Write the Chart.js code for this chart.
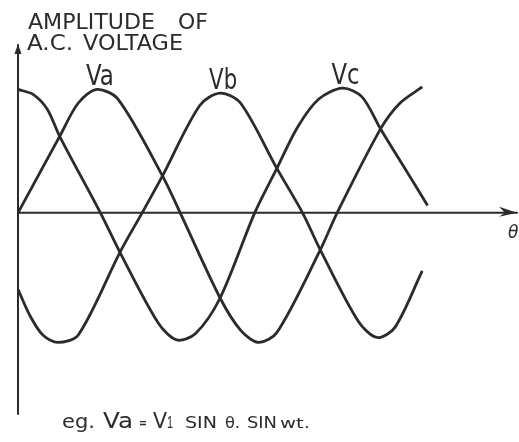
<!DOCTYPE html>
<html>
<head>
<meta charset="utf-8">
<title>Three-phase A.C. voltage</title>
<script src="https://cdn.jsdelivr.net/npm/chart.js@4.4.0/dist/chart.umd.min.js"></script>
<style>
    html, body { margin: 0; padding: 0; background: #fff; }
    canvas { display: block; }
</style>
</head>
<body>
<canvas id="phaseChart" width="519" height="442"></canvas>
<script>
// angle theta in degrees, amplitude as a fraction of the peak voltage
const seriesNames = ['Va', 'Vb', 'Vc'];

const vaTheta = [0, 47, 68, 89, 113, 163, 183, 228, 251, 271, 292, 341, 360, 409, 431, 456];
const vaAmp   = [0, 0.62, 0.89, 1.0, 0.92, 0.30, 0, -0.69, -0.95, -1.05, -0.97, -0.30, 0, 0.68, 0.89, 1.02];

const vbTheta = [0, 14, 28, 45, 68, 115, 140, 163, 205, 228, 251, 292, 321, 341, 384, 405, 425, 456];
const vbAmp   = [-0.62, -0.84, -0.99, -1.05, -0.99, -0.32, 0, 0.30, 0.87, 0.97, 0.89, 0.36, 0, -0.30, -0.88, -1.01, -0.93, -0.47];

const vcTheta = [0, 17, 33, 47, 93, 115, 158, 179, 200, 228, 267, 292, 315, 339, 366, 388, 409, 439, 462];
const vcAmp   = [1.0, 0.96, 0.84, 0.62, 0, -0.32, -0.89, -1.03, -0.98, -0.69, 0, 0.36, 0.69, 0.92, 1.01, 0.94, 0.68, 0.33, 0.06];

const yTitle = ['AMPLITUDE', 'OF', 'A.C.', 'VOLTAGE'];
const xTitle = 'θ';
const caption = ['eg.', 'Va', '=', 'V', '1', 'SIN', 'θ.', 'SIN', 'wt.'];

const ink = '#2b2b2b';

function toPoints(thetas, amps) {
    return thetas.map((t, i) => ({ x: t, y: amps[i] }));
}

// first interior peak of a wave, used to hang its name above it
function firstPeak(points) {
    for (let i = 1; i < points.length - 1; i++) {
        if (points[i].y >= points[i - 1].y && points[i].y >= points[i + 1].y) return points[i];
    }
    return points[0];
}

// draw text squeezed or stretched to a set width
function fitText(ctx, text, x, y, font, width, align) {
    ctx.font = font;
    const w = ctx.measureText(text).width;
    ctx.save();
    ctx.translate(x, y);
    ctx.scale(width / w, 1);
    ctx.textAlign = align || 'left';
    ctx.fillText(text, 0, 0);
    ctx.restore();
}

// hand drawn style axes with arrows, plus all the lettering
const sketchAxes = {
    id: 'sketchAxes',
    beforeDatasetsDraw(chart) {
        const ctx = chart.ctx;
        const xs = chart.scales.x, ys = chart.scales.y;
        const x0 = xs.getPixelForValue(0);
        const y0 = ys.getPixelForValue(0);
        const xEnd = xs.right + 7;

        ctx.save();
        ctx.strokeStyle = ink;
        ctx.fillStyle = ink;
        ctx.lineWidth = 2;
        ctx.lineCap = 'round';

        // vertical axis
        ctx.beginPath();
        ctx.moveTo(x0, ys.bottom);
        ctx.lineTo(x0, ys.top);
        ctx.stroke();
        ctx.beginPath();
        ctx.moveTo(x0, ys.top - 1);
        ctx.lineTo(x0 - 3.5, ys.top + 9);
        ctx.lineTo(x0 + 3.5, ys.top + 9);
        ctx.closePath();
        ctx.fill();

        // horizontal axis
        ctx.beginPath();
        ctx.moveTo(x0, y0);
        ctx.lineTo(xEnd, y0);
        ctx.stroke();
        ctx.beginPath();
        ctx.moveTo(xEnd, y0);
        ctx.lineTo(xEnd - 18, y0 - 6);
        ctx.lineTo(xEnd - 12, y0);
        ctx.lineTo(xEnd - 18, y0 + 4);
        ctx.closePath();
        ctx.fill();
        ctx.restore();
    },
    afterDatasetsDraw(chart) {
        const ctx = chart.ctx;
        const xs = chart.scales.x, ys = chart.scales.y;
        const y0 = ys.getPixelForValue(0);

        ctx.save();
        ctx.fillStyle = ink;
        ctx.textBaseline = 'alphabetic';

        // axis titles
        const tf = '22px "DejaVu Sans"';
        fitText(ctx, yTitle[0], 28, 29, tf, 127);
        fitText(ctx, yTitle[1], 178, 29, tf, 30);
        fitText(ctx, yTitle[2], 27, 50, tf, 46);
        fitText(ctx, yTitle[3], 83, 50, tf, 100);
        ctx.font = 'italic 17px "DejaVu Sans"';
        ctx.fillText(xTitle, xs.right - 2, y0 + 25);

        // wave names sit just above each wave's peak
        chart.data.datasets.forEach(ds => {
            const peak = firstPeak(ds.data);
            const px = xs.getPixelForValue(peak.x) + 3;
            const py = ys.getPixelForValue(peak.y) - 4;
            fitText(ctx, ds.label, px, py, '29px "DejaVu Sans"', 28, 'center');
        });

        // example formula underneath
        const base = 428;
        fitText(ctx, caption[0], 62, base, '20px "DejaVu Sans"', 33);
        fitText(ctx, caption[1], 103, base, '22px "DejaVu Sans"', 30);
        fitText(ctx, caption[2], 139, base - 1, 'bold 13px "DejaVu Sans"', 8);
        fitText(ctx, caption[3], 153, base, '22px "DejaVu Sans"', 14);
        fitText(ctx, caption[4], 167, base, '16px "Liberation Sans"', 6);
        fitText(ctx, caption[5], 185, base, '15px "DejaVu Sans"', 32);
        fitText(ctx, caption[6], 225, base, '15px "DejaVu Sans"', 15);
        fitText(ctx, caption[7], 247, base, '15px "DejaVu Sans"', 30);
        fitText(ctx, caption[8], 280, base, '14px "DejaVu Sans"', 30);
        ctx.restore();
    }
};

const waveData = [
    toPoints(vaTheta, vaAmp),
    toPoints(vbTheta, vbAmp),
    toPoints(vcTheta, vcAmp)
];

const ctx = document.getElementById('phaseChart').getContext('2d');
const phaseChart = new Chart(ctx, {
    type: 'line',
    data: {
        datasets: seriesNames.map((name, i) => ({
            label: name,
            data: waveData[i],
            borderColor: ink,
            borderWidth: 2.8,
            pointRadius: 0,
            fill: false,
            tension: 0.3
        }))
    },
    options: {
        responsive: false,
        animation: false,
        devicePixelRatio: 1,
        layout: {
            padding: { left: 18, right: 9, top: 45, bottom: 28 }
        },
        scales: {
            x: { type: 'linear', min: 0, max: 555, display: false },
            y: { type: 'linear', min: -1.63, max: 1.36, display: false }
        },
        plugins: {
            legend: { display: false },
            tooltip: { enabled: false }
        }
    },
    plugins: [sketchAxes]
});
</script>
</body>
</html>
